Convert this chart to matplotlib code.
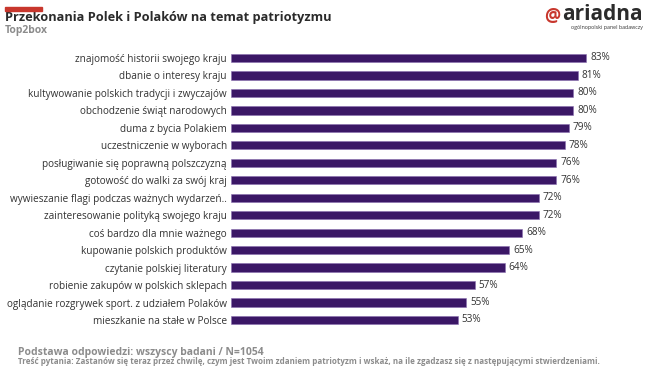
import numpy as np
import matplotlib.pyplot as plt
from matplotlib.patches import Rectangle

categories = [
    'znajomość historii swojego kraju',
    'dbanie o interesy kraju',
    'kultywowanie polskich tradycji i zwyczajów',
    'obchodzenie świąt narodowych',
    'duma z bycia Polakiem',
    'uczestniczenie w wyborach',
    'posługiwanie się poprawną polszczyzną',
    'gotowość do walki za swój kraj',
    'wywieszanie flagi podczas ważnych wydarzeń..',
    'zainteresowanie polityką swojego kraju',
    'coś bardzo dla mnie ważnego',
    'kupowanie polskich produktów',
    'czytanie polskiej literatury',
    'robienie zakupów w polskich sklepach',
    'oglądanie rozgrywek sport. z udziałem Polaków',
    'mieszkanie na stałe w Polsce',
]
values = [83, 81, 80, 80, 79, 78, 76, 76, 72, 72, 68, 65, 64, 57, 55, 53]

plt.rcParams['font.family'] = ['Open Sans', 'DejaVu Sans']

W, H = 655, 372
fig = plt.figure(figsize=(W / 100, H / 100), dpi=100)

# axes: x=0 at 229px, 4.3px per %, first bar centre y=58, last y=320
n = len(values)
step = (320 - 58) / (n - 1)
top = 58 - step / 2
bottom = 320 + step / 2
ax = fig.add_axes([231 / W, 1 - bottom / H, 95 * 4.28 / W, (bottom - top) / H])
y = np.arange(n)
ax.barh(y, values, height=0.47, color='#3b1766', edgecolor='#8a6fb0', linewidth=0.4)
ax.set_ylim(n - 0.5, -0.5)
ax.set_xlim(0, 95)
ax.set_yticks(y, categories, fontsize=7.2, color='#333333')
ax.tick_params(axis='y', length=0, pad=3)
ax.set_xticks([])
for s in ax.spines.values():
    s.set_visible(False)
for v, yy in zip(values, y):
    ax.text(v + 0.9, yy, f'{v}%', va='center', ha='left', fontsize=7.2, color='#333333')

# header
fig.patches.append(Rectangle((5 / W, 1 - 11 / H), 37 / W, 4 / H, transform=fig.transFigure,
                             color='#c8372d', zorder=5))
fig.text(5 / W, 1 - 18 / H, 'Przekonania Polek i Polaków na temat patriotyzmu', fontsize=9.2,
         fontweight='bold', color='#2b2b2b', va='center', ha='left')
fig.text(5 / W, 1 - 31 / H, 'Top2box', fontsize=7.5, fontweight='bold', color='#8c8c8c',
         va='center', ha='left')

# logo
fig.text(552 / W, 1 - 16 / H, '@', fontsize=13, fontweight='bold', color='#c8372d',
         va='center', ha='center')
fig.text(562 / W, 1 - 15 / H, 'ariadna', fontsize=15, fontweight='bold', color='#2b2b2b',
         va='center', ha='left')
fig.text(643 / W, 1 - 28 / H, 'ogólnopolski panel badawczy', fontsize=3.8, color='#333333',
         va='center', ha='right')

# footer
fig.text(18 / W, 1 - 352 / H, 'Podstawa odpowiedzi: wszyscy badani / N=1054', fontsize=7.5,
         fontweight='bold', color='#8c8c8c', va='center', ha='left')
fig.text(18 / W, 1 - 361 / H,
         'Treść pytania: Zastanów się teraz przez chwilę, czym jest Twoim zdaniem patriotyzm i wskaż, '
         'na ile zgadzasz się z następującymi stwierdzeniami.',
         fontsize=5.8, fontweight='bold', color='#8c8c8c', va='center', ha='left')

fig.savefig('out.png', dpi=100)
